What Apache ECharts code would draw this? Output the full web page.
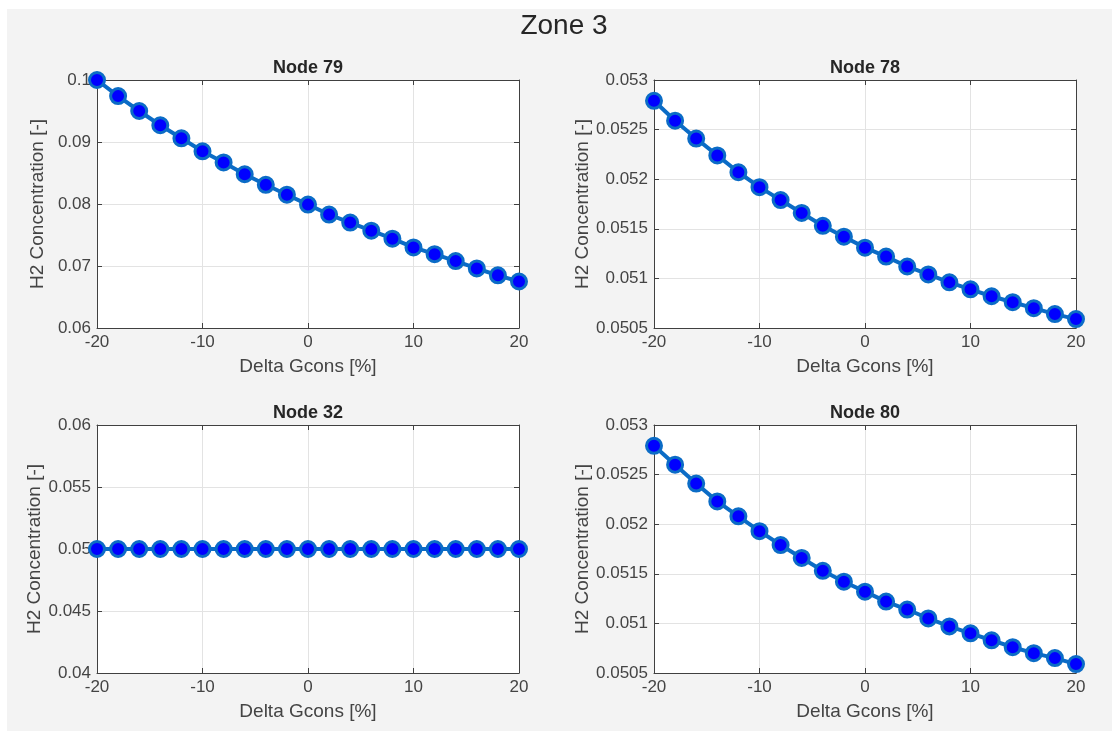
<!DOCTYPE html>
<html>
<head>
<meta charset="utf-8">
<title>Zone 3</title>
<script src="https://cdn.jsdelivr.net/npm/echarts@6/dist/echarts.min.js"></script>
<style>
  html, body { margin: 0; padding: 0; background: #fff; }
  #chart { width: 1119px; height: 731px; }
</style>
</head>
<body>
<div id="chart"></div>
<script>
// x values (Delta Gcons [%])
const deltaGcons = [-20, -18, -16, -14, -12, -10, -8, -6, -4, -2, 0, 2, 4, 6, 8, 10, 12, 14, 16, 18, 20]

// H2 concentration per node
const node79 = [0.1, 0.0974, 0.0950, 0.0927, 0.0906, 0.0885, 0.0867, 0.0848, 0.0831, 0.0815, 0.0799,
  0.0783, 0.0770, 0.0757, 0.0744, 0.0730, 0.0719, 0.0708, 0.0696, 0.0685, 0.0675]
const node78 = [0.05279, 0.05259, 0.05241, 0.05224, 0.05207, 0.05192, 0.05179, 0.05166, 0.05153, 0.05142, 0.05131,
  0.05122, 0.05112, 0.05104, 0.05096, 0.05089, 0.05082, 0.05076, 0.05070, 0.05064, 0.05059]
const node32 = [0.05, 0.05, 0.05, 0.05, 0.05, 0.05, 0.05, 0.05, 0.05, 0.05, 0.05,
  0.05, 0.05, 0.05, 0.05, 0.05, 0.05, 0.05, 0.05, 0.05, 0.05]
const node80 = [0.05279, 0.05260, 0.05241, 0.05223, 0.05208, 0.05193, 0.05179, 0.05166, 0.05153, 0.05142, 0.05132,
  0.05122, 0.05114, 0.05105, 0.05097, 0.05090, 0.05083, 0.05076, 0.05070, 0.05065, 0.05059]

const panelTitles = ['Node 79', 'Node 78', 'Node 32', 'Node 80']
const panelData = [node79, node78, node32, node80]
// y axis ranges [min, max, interval]
const yRanges = [[0.06, 0.1, 0.01], [0.0505, 0.053, 0.0005], [0.04, 0.06, 0.005], [0.0505, 0.053, 0.0005]]
const xRange = [-20, 20, 10]

const FONT = '"Liberation Sans", Arial, sans-serif'
const axisColor = '#404040'
const textColor = '#444'
const lineColor = '#0b6cc6'
const markerFill = '#0000FF'

// subplot boxes
const boxes = [
  { left: 97, top: 80 },
  { left: 654, top: 80 },
  { left: 97, top: 425 },
  { left: 654, top: 425 },
]
const boxW = 422
const boxH = 248

const chart = echarts.init(document.getElementById('chart'))

const grid = []
const xAxis = []
const yAxis = []
const series = []
const title = [{
  text: 'Zone 3',
  left: 559,
  top: 7,
  textAlign: 'center',
  textStyle: { fontFamily: FONT, fontSize: 28, fontWeight: 'normal', color: '#262626' },
}]

boxes.forEach((b, i) => {
  grid.push({ left: b.left, top: b.top, width: boxW, height: boxH, show: true, backgroundColor: '#fff', borderWidth: 0 })

  title.push({
    text: panelTitles[i],
    left: b.left + boxW / 2 - 5,
    top: b.top - 26,
    textAlign: 'center',
    textStyle: { fontFamily: FONT, fontSize: 18, fontWeight: 'bold', color: '#262626' },
  })

  const [ymin, ymax, yint] = yRanges[i]

  // bottom axis with labels
  xAxis.push({
    type: 'value', gridIndex: i, position: 'bottom',
    min: xRange[0], max: xRange[1], interval: xRange[2],
    name: 'Delta Gcons [%]', nameLocation: 'middle', nameGap: 29,
    nameTextStyle: { fontFamily: FONT, fontSize: 19, color: textColor },
    axisLine: { show: true, onZero: false, lineStyle: { color: axisColor, width: 1 } },
    axisTick: { show: true, inside: true, length: 5, lineStyle: { color: axisColor } },
    axisLabel: { fontFamily: FONT, fontSize: 17, color: textColor, margin: 6 },
    splitLine: { show: true, lineStyle: { color: '#e3e3e3', width: 1 } },
  })
  // top axis: box edge + ticks only
  xAxis.push({
    type: 'value', gridIndex: i, position: 'top',
    min: xRange[0], max: xRange[1], interval: xRange[2],
    axisLine: { show: true, onZero: false, lineStyle: { color: axisColor, width: 1 } },
    axisTick: { show: true, inside: true, length: 5, lineStyle: { color: axisColor } },
    axisLabel: { show: false },
    splitLine: { show: false },
  })

  yAxis.push({
    type: 'value', gridIndex: i, position: 'left',
    min: ymin, max: ymax, interval: yint,
    name: 'H2 Concentration [-]', nameLocation: 'middle', nameGap: 50,
    nameTextStyle: { fontFamily: FONT, fontSize: 19, color: textColor },
    axisLine: { show: true, onZero: false, lineStyle: { color: axisColor, width: 1 } },
    axisTick: { show: true, inside: true, length: 5, lineStyle: { color: axisColor } },
    axisLabel: {
      fontFamily: FONT, fontSize: 17, color: textColor, margin: 6,
      formatter: v => String(parseFloat(v.toFixed(6))),
    },
    splitLine: { show: true, lineStyle: { color: '#e3e3e3', width: 1 } },
  })
  yAxis.push({
    type: 'value', gridIndex: i, position: 'right',
    min: ymin, max: ymax, interval: yint,
    axisLine: { show: true, onZero: false, lineStyle: { color: axisColor, width: 1 } },
    axisTick: { show: true, inside: true, length: 5, lineStyle: { color: axisColor } },
    axisLabel: { show: false },
    splitLine: { show: false },
  })

  series.push({
    name: panelTitles[i],
    type: 'line',
    xAxisIndex: i * 2,
    yAxisIndex: i * 2,
    data: deltaGcons.map((x, k) => [x, panelData[i][k]]),
    clip: false,
    symbol: 'circle',
    symbolSize: 15,
    lineStyle: { color: lineColor, width: 4 },
    itemStyle: { color: markerFill, borderColor: lineColor, borderWidth: 3 },
    z: 5,
  })
})

const option = {
  animation: false,
  backgroundColor: '#fff',
  graphic: [{
    type: 'rect',
    shape: { x: 7, y: 9, width: 1105, height: 722 },
    style: { fill: '#f3f3f3' },
    z: -10,
  }],
  title,
  grid,
  xAxis,
  yAxis,
  series,
}

chart.setOption(option)
</script>
</body>
</html>
